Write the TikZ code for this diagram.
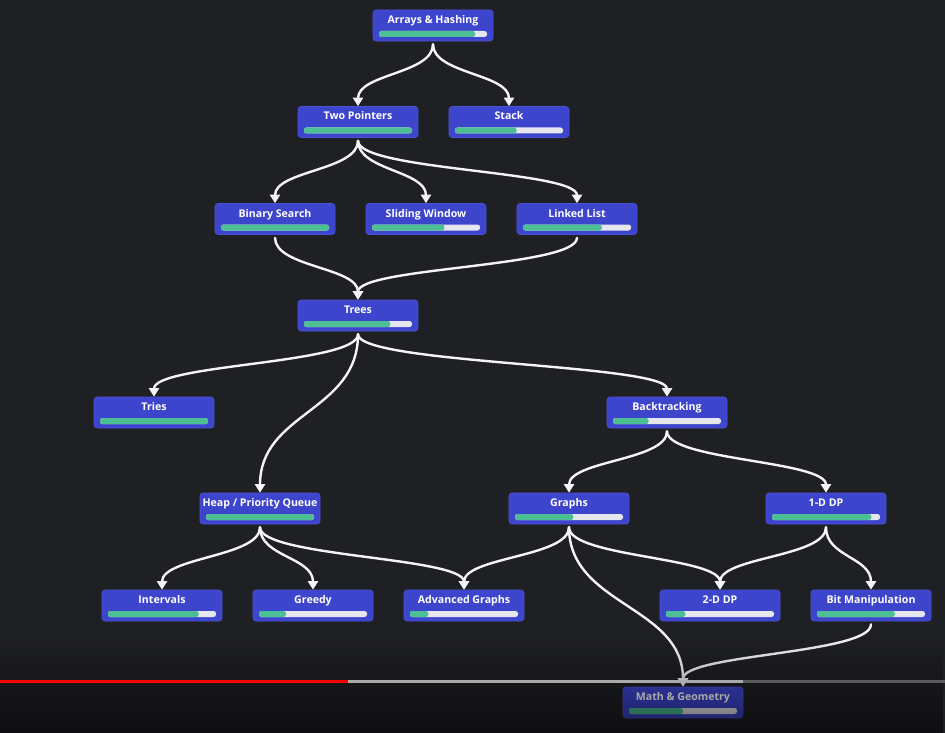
\documentclass[tikz,border=0pt]{standalone}
\usepackage{fontspec}
\setmainfont{Open Sans}
\usetikzlibrary{arrows.meta,calc,fadings}
\definecolor{bgc}{HTML}{1F2024}
\definecolor{boxc}{HTML}{3D45CD}
\definecolor{boxedge}{HTML}{4A53DA}
\definecolor{barg}{HTML}{4CBF94}
\definecolor{bart}{HTML}{E6E7EE}
\definecolor{edgec}{HTML}{F4F4F6}
\definecolor{ytred}{HTML}{FF0000}
\definecolor{ytgray}{HTML}{ABABAB}
\definecolor{ytdark}{HTML}{5A5A5C}
\pgfdeclarelayer{bg}
\pgfdeclarelayer{edges}
\pgfdeclarelayer{top}
\pgfsetlayers{bg,edges,main,top}
\tikzset{
  box/.style={rectangle, minimum width=120pt, minimum height=31pt, inner sep=0pt,
    rounded corners=3pt, fill=boxc, draw=boxedge, line width=0.6pt},
  lbl/.style={text=white, font=\bfseries\fontsize{10.6}{12}\selectfont, inner sep=0pt, anchor=base},
  track/.style={fill=bart, rounded corners=2.5pt},
  prog/.style={fill=barg, rounded corners=2.5pt},
  edge/.style={draw=edgec, line width=2.4pt, line cap=round,
    -{Triangle[width=10pt,length=8.5pt]}, shorten <=3pt}
}
\newcommand\topic[5]{%
  \node[box] (#1) at (#2,#3) {};
  \node[lbl] (#1-t) at ($(#1.north)+(0,13.8)$) {#4};
  \fill[track] ($(#1.center)+(-54,5.5)$) rectangle ($(#1.center)+(54,11.5)$);
  \fill[prog] ($(#1.center)+(-54,5.5)$) rectangle ($(#1.center)+({-54+108*#5},11.5)$);
}
\newcommand\link[2]{%
  \draw[edge] let \p1=(#1.south), \p2=(#2.north), \p3=($(\p1)!0.5!(\p2)$) in
    (\p1) .. controls (\x1,\y3) and (\x2,\y3) .. (\p2);
}
\begin{document}
\begin{tikzpicture}[x=1pt,y=-1pt]
\begin{pgfonlayer}{bg}
  \fill[bgc] (0,0) rectangle (945,733);
\end{pgfonlayer}
\useasboundingbox (0,0) rectangle (945,733);

\topic{ah}{433}{25.5}{Arrays \& Hashing}{0.89}
\topic{tp}{358}{122}{Two Pointers}{1}
\topic{st}{509}{122}{Stack}{0.57}
\topic{bs}{275}{219}{Binary Search}{1}
\topic{sw}{426}{219}{Sliding Window}{0.67}
\topic{ll}{577}{219}{Linked List}{0.73}
\topic{tr}{358}{315.5}{Trees}{0.80}
\topic{tri}{154}{412.5}{Tries}{1}
\topic{bt}{667}{412.5}{Backtracking}{0.33}
\topic{hp}{260}{508.5}{Heap / Priority Queue}{1}
\topic{gr}{569}{508.5}{Graphs}{0.54}
\topic{dpa}{826}{508.5}{1-D DP}{0.92}
\topic{iv}{162}{605.5}{Intervals}{0.84}
\topic{gd}{313}{605.5}{Greedy}{0.25}
\topic{ag}{464}{605.5}{Advanced Graphs}{0.17}
\topic{dpb}{720}{605.5}{2-D DP}{0.18}
\topic{bm}{871}{605.5}{Bit Manipulation}{0.72}
\topic{mg}{683}{702.5}{Math \& Geometry}{0.50}

\begin{pgfonlayer}{edges}
  \link{ah}{tp}
  \link{ah}{st}
  \link{tp}{bs}
  \link{tp}{sw}
  \link{tp}{ll}
  \link{bs}{tr}
  \link{ll}{tr}
  \link{tr}{tri}
  \link{tr}{hp}
  \link{tr}{bt}
  \link{bt}{gr}
  \link{bt}{dpa}
  \link{hp}{iv}
  \link{hp}{gd}
  \link{hp}{ag}
  \link{gr}{ag}
  \link{gr}{dpb}
  \link{gr}{mg}
  \link{dpa}{dpb}
  \link{dpa}{bm}
  \link{bm}{mg}
\end{pgfonlayer}

\begin{pgfonlayer}{top}
  \fill[black, path fading=north, fill opacity=0.55] (0,635) rectangle (945,733);
  \fill[ytred] (0,680) rectangle (348,683);
  \fill[ytgray] (348,680) rectangle (743,683);
  \fill[ytdark] (743,680) rectangle (945,683);
\end{pgfonlayer}
\end{tikzpicture}
\end{document}
